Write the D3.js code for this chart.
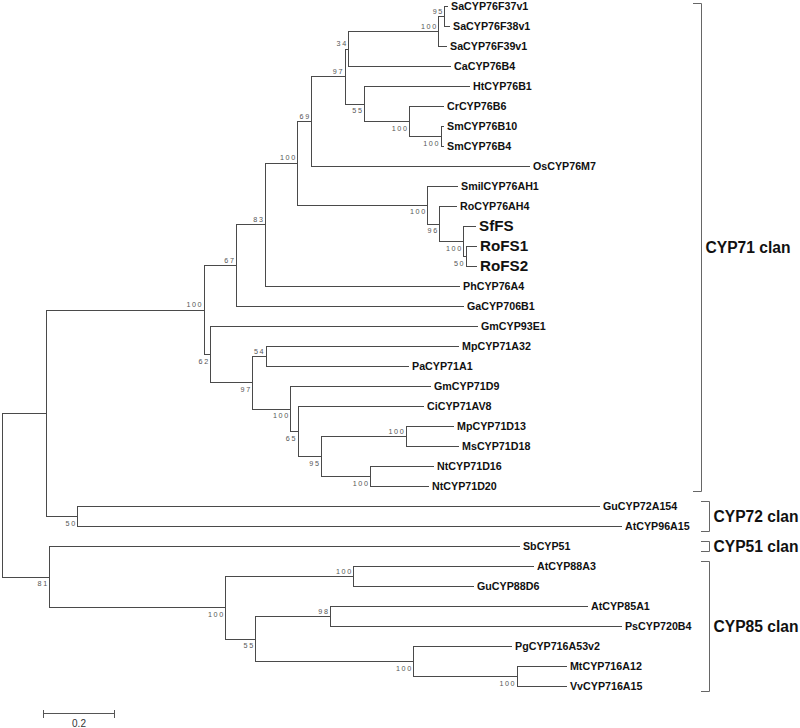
<!DOCTYPE html>
<html>
<head>
<meta charset="utf-8">
<script src="https://cdn.jsdelivr.net/npm/d3@7"></script>
<style>
  html, body { margin: 0; padding: 0; background: #fff; }
  svg { display: block; }
</style>
</head>
<body>
<svg id="chart" width="800" height="728"></svg>
<script>
// Tree: [node, parent, branch length (substitutions/site), bootstrap support]
const treeRows = [
  ["root", null, 0, null],
  ["N7172", "root", 0.1222, null],
  ["CYP71", "N7172", 0.4381, 100],
  ["N67", "CYP71", 0.0897, 67],
  ["N83", "N67", 0.0806, 83],
  ["N100u", "N83", 0.0897, 100],
  ["N69", "N100u", 0.0389, 69],
  ["N97", "N69", 0.0922, 97],
  ["N34", "N97", 0.0106, 34],
  ["NSa", "N34", 0.25, 100],
  ["N95a", "NSa", 0.0167, 95],
  ["SaCYP76F37v1", "N95a", 0.0075, null],
  ["SaCYP76F38v1", "N95a", 0.0131, null],
  ["SaCYP76F39v1", "NSa", 0.0214, null],
  ["CaCYP76B4", "N34", 0.2825, null],
  ["N55", "N97", 0.0542, 55],
  ["HtCYP76B1", "N55", 0.2917, null],
  ["NCrSm", "N55", 0.125, 100],
  ["CrCYP76B6", "NCrSm", 0.0944, null],
  ["NSm", "NCrSm", 0.0875, 100],
  ["SmCYP76B10", "NSm", 0.0069, null],
  ["SmCYP76B4", "NSm", 0.0069, null],
  ["OsCYP76M7", "N69", 0.6047, null],
  ["N100S", "N100u", 0.3611, 100],
  ["SmilCYP76AH1", "N100S", 0.0825, null],
  ["N96", "N100S", 0.0333, 96],
  ["RoCYP76AH4", "N96", 0.0464, null],
  ["NFS", "N96", 0.0667, 100],
  ["SfFS", "NFS", 0.0325, null],
  ["NRoFS", "NFS", 0.0067, 50],
  ["RoFS1", "NRoFS", 0.0286, null],
  ["RoFS2", "NRoFS", 0.0286, null],
  ["PhCYP76A4", "N83", 0.5389, null],
  ["GaCYP706B1", "N67", 0.6306, null],
  ["N62", "CYP71", 0.0183, 62],
  ["GmCYP93E1", "N62", 0.7408, null],
  ["N97b", "N62", 0.1167, 97],
  ["N54", "N97b", 0.0372, 54],
  ["MpCYP71A32", "N54", 0.5342, null],
  ["PaCYP71A1", "N54", 0.3953, null],
  ["N100b", "N97b", 0.1056, 100],
  ["GmCYP71D9", "N100b", 0.3881, null],
  ["N65", "N100b", 0.02, 65],
  ["CiCYP71AV8", "N65", 0.3486, null],
  ["N95b", "N65", 0.0653, 95],
  ["NMpMs", "N95b", 0.2353, 100],
  ["MpCYP71D13", "NMpMs", 0.1314, null],
  ["MsCYP71D18", "NMpMs", 0.1453, null],
  ["NNt", "N95b", 0.1361, 100],
  ["NtCYP71D16", "NNt", 0.175, null],
  ["NtCYP71D20", "NNt", 0.1611, null],
  ["CYP72", "N7172", 0.0869, 50],
  ["GuCYP72A154", "CYP72", 1.4492, null],
  ["AtCYP96A15", "CYP72", 1.5103, null],
  ["N5185", "root", 0.1314, 81],
  ["SbCYP51", "N5185", 1.3047, null],
  ["N85", "N5185", 0.4889, 100],
  ["N88", "N85", 0.3556, 100],
  ["AtCYP88A3", "N88", 0.4992, null],
  ["GuCYP88D6", "N88", 0.3325, null],
  ["N55c", "N85", 0.0833, 55],
  ["N98", "N55c", 0.2075, 98],
  ["AtCYP85A1", "N98", 0.7139, null],
  ["PsCYP720B4", "N98", 0.8083, null],
  ["N716", "N55c", 0.4389, 100],
  ["PgCYP716A53v2", "N716", 0.2714, null],
  ["NMtVv", "N716", 0.2872, 100],
  ["MtCYP716A12", "NMtVv", 0.1369, null],
  ["VvCYP716A15", "NMtVv", 0.1369, null]
];

const bigTaxa = ["SfFS", "RoFS1", "RoFS2"];
const clanNames = ["CYP71 clan", "CYP72 clan", "CYP51 clan", "CYP85 clan"];
const clanFirst = ["SaCYP76F37v1", "GuCYP72A154", "SbCYP51", "AtCYP88A3"];
const clanLast = ["NtCYP71D20", "AtCYP96A15", "SbCYP51", "VvCYP716A15"];
const scaleBarValue = 0.2;
const scaleBarLabel = "0.2";

const svg = d3.select("#chart");
const px = v => Math.round(v) + 0.5;

const root = d3.stratify().id(d => d[0]).parentId(d => d[1])(treeRows);
root.eachBefore(n => { n.dist = n.parent ? n.parent.dist + n.data[2] : 0; });
const leaves = root.leaves();

const x = d3.scaleLinear().domain([0, 1]).range([2, 362]);
const y = d3.scaleLinear().domain([0, leaves.length - 1]).range([6, 686]);

leaves.forEach((l, i) => { l.py = y(i); });
root.eachAfter(n => {
  if (n.children) n.py = (n.children[0].py + n.children[n.children.length - 1].py) / 2;
});

const lineColor = "#4a4a4a";
const gTree = svg.append("g");

// horizontal branches
gTree.selectAll("line.h")
  .data(root.descendants().filter(n => n.parent))
  .join("line")
  .attr("x1", n => Math.round(x(n.parent.dist)))
  .attr("x2", n => Math.round(x(n.dist)) + 1)
  .attr("y1", n => px(n.py))
  .attr("y2", n => px(n.py))
  .attr("stroke", lineColor)
  .attr("stroke-width", 1);

// vertical connectors
gTree.selectAll("line.v")
  .data(root.descendants().filter(n => n.children))
  .join("line")
  .attr("x1", n => px(x(n.dist)))
  .attr("x2", n => px(x(n.dist)))
  .attr("y1", n => Math.round(n.children[0].py))
  .attr("y2", n => Math.round(n.children[n.children.length - 1].py) + 1)
  .attr("stroke", lineColor)
  .attr("stroke-width", 1);

// leaf labels
svg.append("g").selectAll("text")
  .data(leaves)
  .join("text")
  .attr("x", n => x(n.dist) + 4)
  .attr("y", n => n.py + (bigTaxa.includes(n.id) ? 5.4 : 3.8))
  .attr("font-family", "'Liberation Sans', Arial, sans-serif")
  .attr("font-weight", "bold")
  .attr("font-size", n => bigTaxa.includes(n.id) ? 15.2 : 10.7)
  .attr("fill", "#111")
  .text(n => n.id);

// bootstrap values
svg.append("g").selectAll("text")
  .data(root.descendants().filter(n => n.children && n.data[3] != null))
  .join("text")
  .attr("x", n => x(n.dist) - 0.5)
  .attr("y", n => (n.parent && n.parent.children[0] === n) ? n.py - 2.5 : n.py + 9.5)
  .attr("text-anchor", "end")
  .attr("font-family", "'Liberation Sans', Arial, sans-serif")
  .attr("font-size", 7.2)
  .attr("letter-spacing", 1.6)
  .attr("fill", "#555")
  .text(n => n.data[3]);

// clan brackets
const leafY = id => leaves.find(l => l.id === id).py;
const gClan = svg.append("g");
clanNames.forEach((name, i) => {
  const y0 = Math.max(3, leafY(clanFirst[i]) - 5);
  const y1 = leafY(clanLast[i]) + 5;
  const bx = i === 0 ? 701 : 709;
  gClan.append("path")
    .attr("d", `M${bx - 8},${px(y0)}H${px(bx)}V${px(y1)}H${bx - 8}`)
    .attr("fill", "none")
    .attr("stroke", "#666")
    .attr("stroke-width", 1);
  gClan.append("text")
    .attr("x", bx + 4.5)
    .attr("y", (y0 + y1) / 2 + 5.6)
    .attr("font-family", "'Liberation Sans', Arial, sans-serif")
    .attr("font-weight", "bold")
    .attr("font-size", 15.6)
    .attr("fill", "#111")
    .text(name);
});

// scale bar
const sbX0 = 43, sbY = 713;
const sbLen = x(scaleBarValue) - x(0);
const gSb = svg.append("g").attr("stroke", "#555").attr("stroke-width", 1);
gSb.append("line").attr("x1", sbX0).attr("x2", sbX0 + sbLen).attr("y1", sbY + 0.5).attr("y2", sbY + 0.5);
gSb.append("line").attr("x1", sbX0 + 0.5).attr("x2", sbX0 + 0.5).attr("y1", sbY - 3).attr("y2", sbY + 5);
gSb.append("line").attr("x1", sbX0 + sbLen - 0.5).attr("x2", sbX0 + sbLen - 0.5).attr("y1", sbY - 3).attr("y2", sbY + 5);
svg.append("text")
  .attr("x", sbX0 + sbLen / 2)
  .attr("y", sbY + 14)
  .attr("text-anchor", "middle")
  .attr("font-family", "'Liberation Sans', Arial, sans-serif")
  .attr("font-size", 10)
  .attr("fill", "#333")
  .text(scaleBarLabel);
</script>
</body>
</html>
